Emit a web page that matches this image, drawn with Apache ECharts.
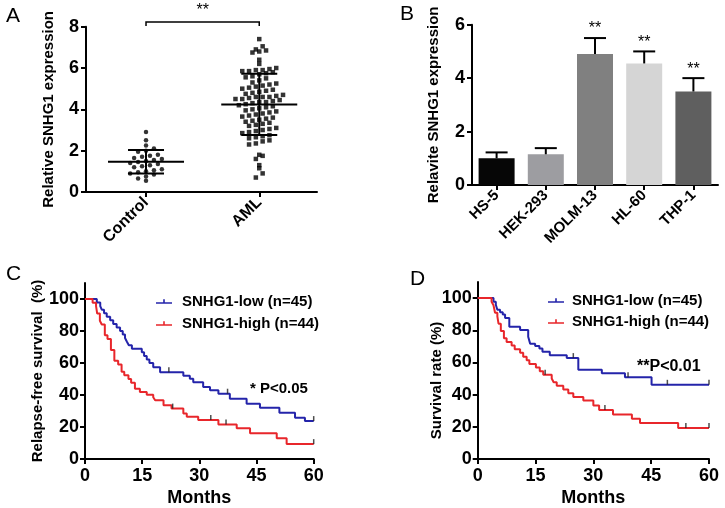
<!DOCTYPE html>
<html><head><meta charset="utf-8">
<script src="https://cdn.jsdelivr.net/npm/echarts@6/dist/echarts.min.js"></script>
<style>html,body{margin:0;padding:0;background:#fff}#c{width:725px;height:508px}</style>
</head><body><div id="c"></div>
<script>
const FONT = '"Liberation Sans", Arial, Helvetica, sans-serif';

// ---------- Panel A data ----------
const groupsA = ['Control', 'AML'];
const controlValues = [2.9, 2.5, 2.25, 2.1, 2.0, 1.95, 1.8, 1.75, 1.7, 1.65, 1.6, 1.55, 1.5, 1.45,
  1.4, 1.35, 1.3, 1.25, 1.2, 1.1, 1.05, 1.0, 0.95, 0.9, 0.85, 0.75, 0.65, 0.55];
const amlValues = [7.4, 7.05, 6.9, 6.85, 6.8, 6.75, 6.4, 6.2, 6.0, 5.95, 5.9, 5.9, 5.85, 5.85, 5.8,
  5.75, 5.7, 5.6, 5.55, 5.5, 5.4, 5.3, 5.25, 5.2, 5.15, 5.1, 5.05, 5.0, 4.95, 4.9, 4.85, 4.8, 4.75,
  4.7, 4.65, 4.6, 4.6, 4.6, 4.55, 4.5, 4.5, 4.45, 4.4, 4.35, 4.35, 4.3, 4.25, 4.2, 4.15, 4.1, 4.05,
  4.0, 3.95, 3.9, 3.85, 3.8, 3.75, 3.7, 3.65, 3.6, 3.55, 3.5, 3.45, 3.4, 3.35, 3.3, 3.25, 3.2, 3.1,
  3.05, 3.0, 2.95, 2.9, 2.85, 2.75, 2.7, 2.65, 2.6, 2.5, 2.45, 2.35, 2.3, 1.8, 1.75, 1.6, 1.3, 1.15,
  0.9, 0.7];
const yTicksA = [0, 2, 4, 6, 8];
const sigA = '**';

// ---------- Panel B data ----------
const cellLines = ['HS-5', 'HEK-293', 'MOLM-13', 'HL-60', 'THP-1'];
const cellMeans = [1.0, 1.15, 4.9, 4.55, 3.5];
const cellErr = [0.22, 0.23, 0.6, 0.45, 0.5];
const cellSig = ['', '', '**', '**', '**'];
const cellColors = ['#060606', '#9d9da1', '#808080', '#d5d5d5', '#5f5f5f'];
const yTicksB = [0, 2, 4, 6];

// ---------- Panel C data (relapse-free survival, %) ----------
const seriesNames = ['SNHG1-low (n=45)', 'SNHG1-high (n=44)'];
const lowC = [[0,100],[3.1,97.8],[4,95.6],[4.4,93.3],[5,91.1],[5.7,88.9],[6.6,86.7],[7.4,84.4],
  [8.3,82.2],[9.2,80],[9.9,77.8],[10.5,75.6],[11,73.3],[11.5,71.1],[12.3,68.9],[14.9,66.7],
  [15.5,64.4],[16.2,62.2],[16.9,60],[17.9,57.3],[19.7,54.2],[25.8,52.1],[27.5,50.1],[28.4,48],
  [31,45],[32.8,42.9],[35,40.8],[38,37.7],[42.4,34.6],[45.9,32],[51,28.9],[55.1,25.8],
  [57.7,23.7],[60,23.7]];
const highC = [[0,100],[2,97.7],[2.9,95.5],[3.2,90.9],[3.9,86.4],[4.4,84.1],[5.2,77.3],[5.9,75],
  [6.8,68.2],[7.7,61.4],[8.7,59.1],[9.6,54.5],[10.3,52.3],[11.4,50],[12.1,47.7],[13.1,43.9],
  [14.4,41.9],[16.2,40.2],[17.9,38.6],[18.4,36.7],[20.6,33.6],[22.7,31.5],[25.8,28.4],
  [26.7,26.4],[29.7,24.3],[35,21.6],[39.8,19.2],[43.3,16.1],[50.3,13],[52.9,9.3],[60,9.3]];
const censorLowC = [22, 37.4, 60];
const censorHighC = [23, 33, 37, 60];
const pTextC = '* P<0.05';

// ---------- Panel D data (overall survival, %) ----------
const lowD = [[0,100],[4.1,97.8],[4.7,95.9],[5.1,92.8],[5.8,91.2],[6.5,89.8],[7.1,87.7],[8.2,82.2],
  [11,80.1],[13.1,76],[13.6,71.7],[14.9,70.3],[16,68.6],[16.8,66.6],[18.7,64.5],[23.1,62.7],
  [26.1,55.5],[32.2,53.3],[38.2,50.8],[45.1,46.1],[60,46.1]];
const highD = [[0,100],[3.6,97.7],[4.1,95.5],[4.5,90.9],[5.1,88.6],[5.4,84.1],[6,79.5],[6.8,75],
  [7.5,72.7],[8.8,70.5],[9.6,68.2],[11,66],[11.8,63.6],[12.7,61.4],[13.4,59.1],[15.1,56.8],
  [16.1,54.5],[17,52.3],[19.2,50],[19.7,47.7],[20.5,45.5],[22.2,43.2],[23.5,40.9],[24.8,38.6],
  [27.4,36.4],[30,33.2],[31.5,30.4],[35.1,27.7],[40,25],[42.1,22.3],[52,19.3],[60,19.3]];
const censorLowD = [24.8, 39, 49.2, 60];
const censorHighD = [17.5, 33, 54, 60];
const pTextD = '**P<0.01';

const kmYTicks = [0, 20, 40, 60, 80, 100];
const kmXTicks = [0, 15, 30, 45, 60];

// ---------- helpers ----------
function mean(a) { return a.reduce((s, v) => s + v, 0) / a.length; }
function sd(a) { const m = mean(a); return Math.sqrt(a.reduce((s, v) => s + (v - m) * (v - m), 0) / (a.length - 1)); }
function beeswarm(values, center, binH, dx) {
  const sorted = values.slice().sort((a, b) => a - b);
  const bins = new Map();
  sorted.forEach(v => { const k = Math.round(v / binH); if (!bins.has(k)) bins.set(k, []); bins.get(k).push(v); });
  const pts = [];
  bins.forEach(arr => {
    const n = arr.length;
    arr.forEach((v, i) => pts.push([center + (i - (n - 1) / 2) * dx, v]));
  });
  return pts;
}
function survAt(steps, t) {
  let v = steps[0][1];
  for (const [tt, s] of steps) { if (tt <= t) v = s; else break; }
  return v;
}

const BLUE = '#2424aa', RED = '#e8262b';
const LEG_ICON = 'path://M0,4h16v1.6H0z M7.2,1h1.6v3h-1.6z';

const axisLineStyle = { show: true, onZero: false, lineStyle: { color: '#000', width: 2 } };
const axisTickStyle = { show: true, length: 5, lineStyle: { color: '#000', width: 2 } };
const tickLabel = { color: '#000', fontFamily: FONT, fontWeight: 'bold', fontSize: 18 };
const nameStyle = { color: '#000', fontFamily: FONT, fontWeight: 'bold', fontSize: 15 };

const statsA = [[0, mean(controlValues), sd(controlValues)], [1, mean(amlValues), sd(amlValues)]];

function kmSeries(name, steps, color, idx) {
  return { name, type: 'line', step: 'end', xAxisIndex: idx, yAxisIndex: idx, data: steps,
    showSymbol: false, symbol: 'none', lineStyle: { color, width: 2 }, itemStyle: { color },
    animation: false, z: 3 };
}
function censorSeries(steps, times, idx) {
  return { name: 'censor', type: 'scatter', xAxisIndex: idx, yAxisIndex: idx,
    data: times.map(t => [t, survAt(steps, t)]), symbol: 'rect', symbolSize: [1.5, 5],
    symbolOffset: [0, -2.5], itemStyle: { color: '#222' }, z: 4, animation: false, silent: true };
}
function kmYAxis(idx, name, gap, pad, moveOverlap) {
  return { gridIndex: idx, type: 'value', min: 0, max: 110,
    axisLine: axisLineStyle, axisTick: Object.assign({}, axisTickStyle, { customValues: kmYTicks }),
    axisLabel: Object.assign({}, tickLabel, { customValues: kmYTicks, margin: 6 }),
    splitLine: { show: false }, name, nameLocation: 'middle', nameGap: gap,
    nameMoveOverlap: moveOverlap,
    nameTextStyle: Object.assign({}, nameStyle, { padding: pad }) };
}
function kmXAxis(idx) {
  return { gridIndex: idx, type: 'value', min: 0, max: 60,
    axisLine: axisLineStyle, axisTick: Object.assign({}, axisTickStyle, { customValues: kmXTicks }),
    axisLabel: Object.assign({}, tickLabel, { customValues: kmXTicks, margin: 8 }),
    splitLine: { show: false }, name: 'Months', nameLocation: 'middle', nameGap: 30,
    nameTextStyle: Object.assign({}, nameStyle, { fontSize: 18 }) };
}

const option = {
  animation: false,
  backgroundColor: '#fff',
  textStyle: { fontFamily: FONT },
  title: [
    { text: 'A', left: 1, top: 1, textStyle: { fontSize: 21, fontWeight: 'normal', color: '#000', fontFamily: FONT } },
    { text: 'B', left: 395, top: -1, textStyle: { fontSize: 21, fontWeight: 'normal', color: '#000', fontFamily: FONT } },
    { text: 'C', left: 1, top: 259, textStyle: { fontSize: 21, fontWeight: 'normal', color: '#000', fontFamily: FONT } },
    { text: 'D', left: 405, top: 264, textStyle: { fontSize: 21, fontWeight: 'normal', color: '#000', fontFamily: FONT } }
  ],
  grid: [
    { left: 86, top: 26.7, width: 231, height: 165.3 },
    { left: 472, top: 24.7, width: 246, height: 160.3 },
    { left: 85, top: 283, width: 228.7, height: 178 },
    { left: 477.7, top: 282, width: 231.3, height: 179 }
  ],
  xAxis: [
    { gridIndex: 0, type: 'value', min: -0.53, max: 1.51,
      axisLine: axisLineStyle,
      axisTick: Object.assign({}, axisTickStyle, { customValues: [0, 1] }),
      axisLabel: Object.assign({}, tickLabel, { fontSize: 16, rotate: 45, margin: 8, customValues: [0, 1],
        formatter: v => groupsA[Math.round(v)] }),
      splitLine: { show: false } },
    { gridIndex: 1, type: 'category', data: cellLines,
      axisLine: axisLineStyle, axisTick: Object.assign({}, axisTickStyle, { alignWithLabel: true }),
      axisLabel: Object.assign({}, tickLabel, { fontSize: 15, rotate: 45, margin: 8, interval: 0 }) },
    kmXAxis(2), kmXAxis(3)
  ],
  yAxis: [
    { gridIndex: 0, type: 'value', min: 0, max: 8, interval: 2,
      axisLine: axisLineStyle, axisTick: axisTickStyle,
      axisLabel: Object.assign({}, tickLabel, { fontSize: 18, margin: 7 }), splitLine: { show: false },
      name: 'Relative SNHG1 expression', nameLocation: 'middle', nameGap: 30, nameTextStyle: nameStyle },
    { gridIndex: 1, type: 'value', min: 0, max: 6, interval: 2,
      axisLine: axisLineStyle, axisTick: axisTickStyle,
      axisLabel: Object.assign({}, tickLabel, { fontSize: 18, margin: 7 }), splitLine: { show: false },
      name: 'Relavite SNHG1 expression', nameLocation: 'middle', nameGap: 31, nameTextStyle: nameStyle },
    kmYAxis(2, 'Relapse-free survival  (%)', 40, [0, 0, 0, 0], true),
    kmYAxis(3, 'Survival rate (%)', 33, [0, 20, 0, 0], false)
  ],
  legend: [
    { left: 156, top: 294, padding: 0, orient: 'vertical', itemGap: 7, itemWidth: 16, itemHeight: 6,
      data: seriesNames.map(n => ({ name: n, icon: LEG_ICON })),
      textStyle: { color: '#000', fontFamily: FONT, fontWeight: 'bold', fontSize: 15, padding: [0, 0, 0, 5] } },
    { left: 548, top: 293, padding: 0, orient: 'vertical', itemGap: 6, itemWidth: 16, itemHeight: 6,
      data: seriesNames.map(n => ({ name: n, icon: LEG_ICON })),
      textStyle: { color: '#000', fontFamily: FONT, fontWeight: 'bold', fontSize: 15, padding: [0, 0, 0, 3] } }
  ],
  graphic: [
    { type: 'text', x: 250, y: 381, style: { text: pTextC, fill: '#000', font: 'bold 15px ' + FONT } },
    { type: 'text', x: 637, y: 359, style: { text: pTextD, fill: '#000', font: 'bold 16px ' + FONT } }
  ],
  series: [
    // Panel A scatter
    { name: 'Control', type: 'scatter', xAxisIndex: 0, yAxisIndex: 0,
      data: beeswarm(controlValues, 0, 0.25, 0.07), symbol: 'circle', symbolSize: 4.5,
      itemStyle: { color: '#000' } },
    { name: 'AML', type: 'scatter', xAxisIndex: 0, yAxisIndex: 0,
      data: beeswarm(amlValues, 1, 0.27, 0.06), symbol: 'rect', symbolSize: 4.5,
      itemStyle: { color: '#000' } },
    // Panel A mean ± SD
    { type: 'custom', xAxisIndex: 0, yAxisIndex: 0, data: statsA, z: 5, silent: true,
      renderItem: (params, api) => {
        const x = api.value(0), m = api.value(1), s = api.value(2);
        const c = api.coord([x, m]), t = api.coord([x, m + s]), b = api.coord([x, m - s]);
        const st = { stroke: '#000', lineWidth: 2 };
        return { type: 'group', children: [
          { type: 'line', shape: { x1: c[0] - 38, y1: c[1], x2: c[0] + 38, y2: c[1] }, style: st },
          { type: 'line', shape: { x1: t[0] - 18, y1: t[1], x2: t[0] + 18, y2: t[1] }, style: st },
          { type: 'line', shape: { x1: b[0] - 18, y1: b[1], x2: b[0] + 18, y2: b[1] }, style: st },
          { type: 'line', shape: { x1: t[0], y1: t[1], x2: b[0], y2: b[1] }, style: st }
        ] };
      } },
    // Panel A significance bracket
    { type: 'custom', xAxisIndex: 0, yAxisIndex: 0, data: [[0, 1]], clip: false, silent: true,
      renderItem: (params, api) => {
        const a0 = api.coord([api.value(0), 8.03]), a1 = api.coord([api.value(0), 8.23]);
        const b1 = api.coord([api.value(1), 8.23]), b0 = api.coord([api.value(1), 8.03]);
        return { type: 'group', children: [
          { type: 'polyline', shape: { points: [a0, a1, b1, b0] }, style: { stroke: '#000', lineWidth: 1.5, fill: null } },
          { type: 'text', x: (a1[0] + b1[0]) / 2, y: a1[1] - 3,
            style: { text: sigA, fill: '#000', font: '16px ' + FONT, align: 'center', verticalAlign: 'bottom' } }
        ] };
      } },
    // Panel B bars
    { type: 'bar', xAxisIndex: 1, yAxisIndex: 1, barWidth: 36,
      data: cellMeans.map((v, i) => ({ value: v, itemStyle: { color: cellColors[i] } })) },
    // Panel B error bars + stars
    { type: 'custom', xAxisIndex: 1, yAxisIndex: 1, z: 5, silent: true, clip: false,
      data: cellMeans.map((v, i) => [i, v, cellErr[i]]),
      renderItem: (params, api) => {
        const i = api.value(0), m = api.value(1), e = api.value(2);
        const b = api.coord([i, m]), t = api.coord([i, m + e]);
        const st = { stroke: '#000', lineWidth: 2 };
        const ch = [
          { type: 'line', shape: { x1: b[0], y1: b[1], x2: t[0], y2: t[1] }, style: st },
          { type: 'line', shape: { x1: t[0] - 11, y1: t[1], x2: t[0] + 11, y2: t[1] }, style: st }
        ];
        if (cellSig[i]) ch.push({ type: 'text', x: t[0], y: t[1] - 1,
          style: { text: cellSig[i], fill: '#000', font: '16px ' + FONT, align: 'center', verticalAlign: 'bottom' } });
        return { type: 'group', children: ch };
      } },
    // Panel C
    kmSeries(seriesNames[0], lowC, BLUE, 2),
    kmSeries(seriesNames[1], highC, RED, 2),
    censorSeries(lowC, censorLowC, 2),
    censorSeries(highC, censorHighC, 2),
    // Panel D
    kmSeries(seriesNames[0], lowD, BLUE, 3),
    kmSeries(seriesNames[1], highD, RED, 3),
    censorSeries(lowD, censorLowD, 3),
    censorSeries(highD, censorHighD, 3)
  ]
};
const chart = echarts.init(document.getElementById('c'), null, { renderer: 'canvas' });
chart.setOption(option);
</script></body></html>
